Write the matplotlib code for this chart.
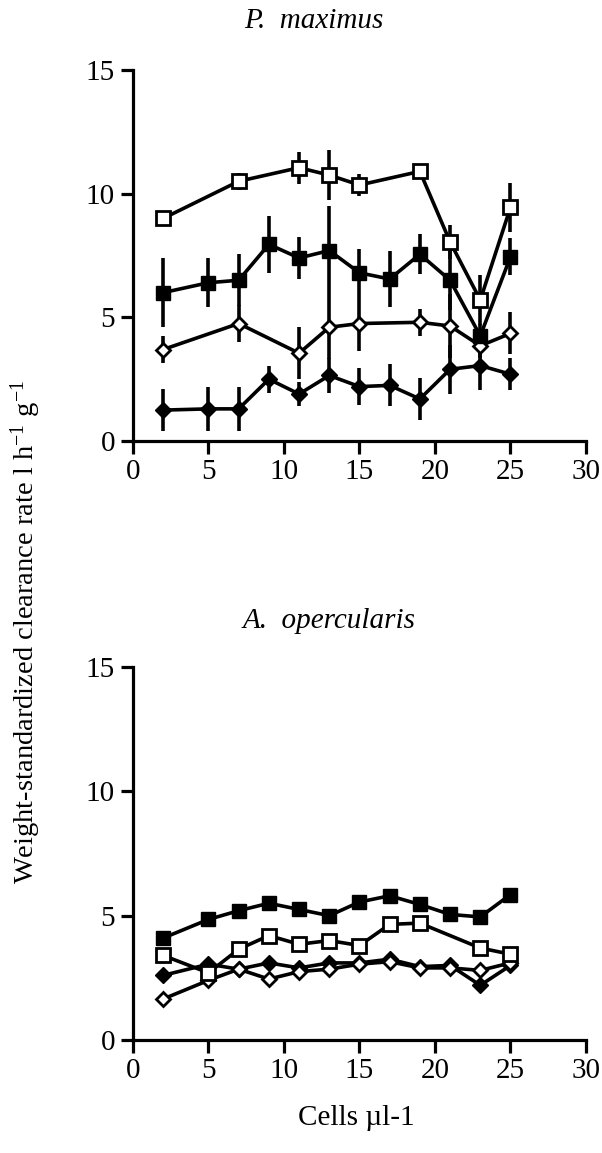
import numpy as np
import matplotlib
matplotlib.use("Agg")
import matplotlib.pyplot as plt

plt.rcParams['font.family'] = 'Liberation Serif'
plt.rcParams['mathtext.fontset'] = 'custom'
plt.rcParams['mathtext.rm'] = 'Liberation Serif'
plt.rcParams['mathtext.it'] = 'Liberation Serif:italic'

# cell concentrations (cells per ul)
x_all = [2, 5, 7, 9, 11, 13, 15, 17, 19, 21, 23, 25]
x_sub = [2, 7, 11, 13, 15, 19, 21, 23, 25]
x_ao_open = [2, 5, 7, 9, 11, 13, 15, 17, 19, 23, 25]

# P. maximus
pm_open_sq = [9.0, 10.5, 11.05, 10.75, 10.35, 10.9, 8.05, 5.7, 9.45]
pm_open_sq_err = [0.0, 0.35, 0.65, 1.0, 0.45, 0.3, 0.7, 1.0, 1.0]
pm_fill_sq = [6.0, 6.4, 6.5, 7.95, 7.4, 7.7, 6.8, 6.55, 7.55, 6.5, 4.25, 7.45]
pm_fill_sq_err = [1.4, 1.0, 1.05, 1.15, 0.85, 1.8, 0.95, 1.15, 0.8, 1.2, 0.5, 0.75]
pm_open_di = [3.7, 4.75, 3.55, 4.6, 4.75, 4.8, 4.65, 3.85, 4.35]
pm_open_di_err = [0.55, 0.75, 1.05, 1.3, 1.1, 0.55, 1.3, 0.5, 0.85]
pm_fill_di = [1.25, 1.3, 1.3, 2.5, 1.9, 2.65, 2.2, 2.25, 1.7, 2.9, 3.05, 2.7]
pm_fill_di_err = [0.85, 0.9, 0.9, 0.55, 0.5, 0.7, 0.75, 0.85, 0.85, 1.0, 1.0, 0.65]

# A. opercularis
ao_fill_sq = [4.1, 4.85, 5.2, 5.5, 5.25, 5.0, 5.55, 5.8, 5.45, 5.05, 4.95, 5.85]
ao_open_sq = [3.4, 2.7, 3.65, 4.2, 3.85, 4.0, 3.8, 4.65, 4.7, 3.7, 3.45]
ao_fill_di = [2.6, 3.05, 2.85, 3.1, 2.9, 3.1, 3.1, 3.25, 2.95, 3.0, 2.2, 3.0]
ao_open_di = [1.65, 2.4, 2.85, 2.45, 2.75, 2.85, 3.05, 3.15, 2.9, 2.9, 2.8, 3.1]

lw = 2.6
sq_open = dict(marker='s', ms=9.5, mfc='white', mec='black', mew=2.0)
sq_fill = dict(marker='s', ms=10.5, mfc='black', mec='black')
di_open = dict(marker='D', ms=7, mfc='white', mec='black', mew=2.0)
di_fill = dict(marker='D', ms=8.5, mfc='black', mec='black')


def draw(ax, x, y, err, style):
	if err is None:
		ax.plot(x, y, color='black', lw=lw, **style)
	else:
		ax.errorbar(x, y, yerr=err, color='black', lw=lw, elinewidth=lw,
			    capsize=0, **style)


def setup(ax):
	ax.set_xlim(0, 30)
	ax.set_ylim(0, 15)
	ax.set_xticks([0, 5, 10, 15, 20, 25, 30])
	ax.set_yticks([0, 5, 10, 15])
	ax.spines['top'].set_visible(False)
	ax.spines['right'].set_visible(False)
	ax.spines['left'].set_linewidth(2.3)
	ax.spines['bottom'].set_linewidth(2.3)
	ax.tick_params(direction='out', length=9, width=2.3, labelsize=21, pad=4)


fig = plt.figure(figsize=(6.02, 11.53), dpi=100)

ax1 = fig.add_axes([0.2209, 0.6175, 0.7525, 0.3218])
draw(ax1, x_all, pm_fill_di, pm_fill_di_err, di_fill)
draw(ax1, x_sub, pm_open_di, pm_open_di_err, di_open)
draw(ax1, x_all, pm_fill_sq, pm_fill_sq_err, sq_fill)
draw(ax1, x_sub, pm_open_sq, pm_open_sq_err, sq_open)
setup(ax1)

ax2 = fig.add_axes([0.2209, 0.098, 0.7525, 0.3235])
draw(ax2, x_all, ao_fill_di, None, di_fill)
draw(ax2, x_all, ao_open_di, None, di_open)
draw(ax2, x_all, ao_fill_sq, None, sq_fill)
draw(ax2, x_ao_open, ao_open_sq, None, sq_open)
setup(ax2)

fig.text(0.522, 0.982, 'P.  maximus', style='italic', fontsize=21, ha='center', va='center')
fig.text(0.547, 0.461, 'A.  opercularis', style='italic', fontsize=21, ha='center', va='center')
fig.text(0.043, 0.452, r'Weight-standardized clearance rate l h$^{-1}$ g$^{-1}$',
	 rotation=90, fontsize=20.5, ha='center', va='center')
fig.text(0.592, 0.030, 'Cells \u00b5l-1', fontsize=21, ha='center', va='center')

plt.savefig('out.png', dpi=100)
